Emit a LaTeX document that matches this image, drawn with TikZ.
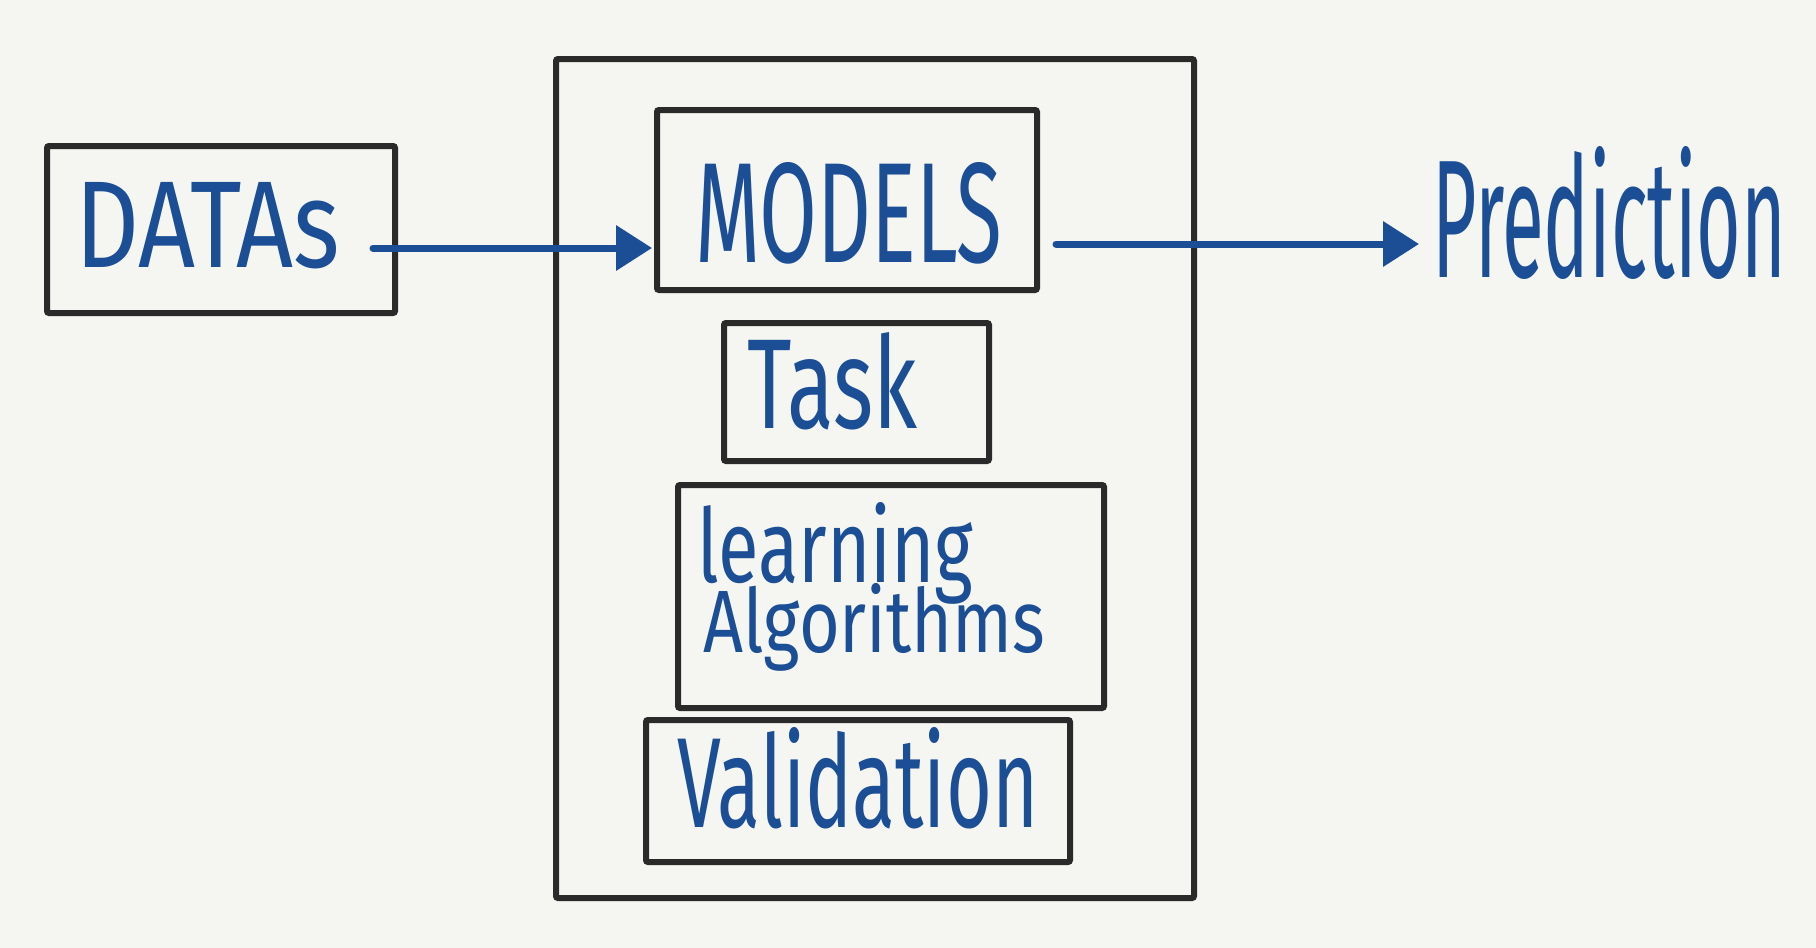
\documentclass[tikz,border=0pt]{standalone}
\usepackage{fontspec}
\setmainfont{Fira Sans}
\usepackage{graphicx}
\usetikzlibrary{arrows.meta}
\definecolor{bg}{HTML}{F5F6F1}
\definecolor{ink}{HTML}{1B4E95}
\definecolor{frame}{HTML}{2A2A2A}
\newcommand{\hw}[3]{\resizebox{#1pt}{#2pt}{#3}}
\tikzset{
  boxline/.style={draw=frame, line width=6pt, rounded corners=2pt},
  hand/.style={anchor=base west, inner sep=0pt, text=ink},
  flow/.style={draw=ink, line width=7pt, line cap=round, -{Triangle[length=36pt,width=44pt]}},
}
\begin{document}
\begin{tikzpicture}[x=1pt,y=-1pt]
\fill[bg] (0,0) rectangle (1816,948);
\useasboundingbox (0,0) rectangle (1816,948);
% boxes
\draw[boxline] (47,146) rectangle (395,313);
\draw[boxline] (556,59) rectangle (1194,898);
\draw[boxline] (657,110) rectangle (1037,290);
\draw[boxline] (724,323) rectangle (989,461);
\draw[boxline] (678,485) rectangle (1104,708);
\draw[boxline] (646,720) rectangle (1070,862);
% texts
\node[hand] (datas) at (75,267) {\hw{265}{85}{DATAs}};
\node[hand] (models) at (695,262) {\hw{307}{100}{MODELS}};
\node[hand] (task) at (747,428) {\hw{170}{96}{Task}};
\node[hand] (learnalgo) at (697,582) {\rlap{\hw{276}{80}{learning}}\raisebox{-70pt}{\hspace{6pt}\hw{342}{69}{Algorithms}}};
\node[hand] (valid) at (677,827) {\hw{361}{100}{Validation}};
\node[hand] (pred) at (1432,277) {\hw{354}{131}{Prediction}};
% connectors
\coordinate (a1s) at (373,248);
\coordinate (a1e) at (652,248);
\coordinate (a2s) at (1056,244);
\coordinate (a2e) at (1419,244);
\draw[flow] (a1s) -- (a1e);
\draw[flow] (a2s) -- (a2e);
\end{tikzpicture}
\end{document}
